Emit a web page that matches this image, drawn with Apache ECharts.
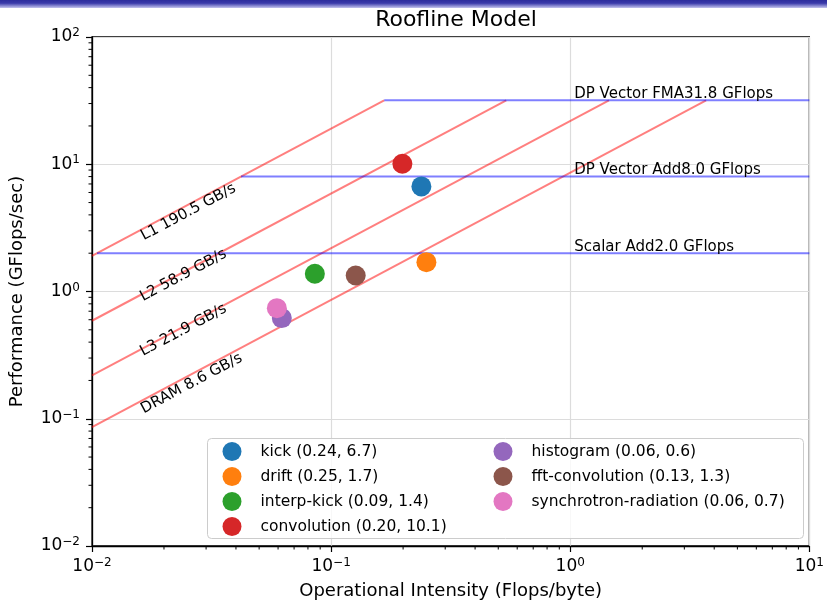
<!DOCTYPE html>
<html>
<head>
<meta charset="utf-8">
<script src="https://cdn.jsdelivr.net/npm/echarts@6/dist/echarts.min.js"></script>
<style>
html,body{margin:0;padding:0;background:#fff;}
#chart{width:827px;height:605px;}
</style>
</head>
<body>
<div id="chart"></div>
<script>
// ---------- data ----------
const appNames = ['kick', 'drift', 'interp-kick', 'convolution', 'histogram', 'fft-convolution', 'synchrotron-radiation'];
const appIntensity = [0.2385, 0.2503, 0.0855, 0.1986, 0.0622, 0.1267, 0.0593];
const appPerformance = [6.7, 1.70, 1.38, 10.1, 0.618, 1.335, 0.74];
const appColors = ['#1f77b4', '#ff7f0e', '#2ca02c', '#d62728', '#9467bd', '#8c564b', '#e377c2'];

const roofNames = ['L1 190.5 GB/s', 'L2 58.9 GB/s', 'L3 21.9 GB/s', 'DRAM 8.6 GB/s'];
const roofStartX = [0.01, 0.01, 0.01, 0.01];
const roofStartY = [1.905, 0.589, 0.219, 0.086];
const roofEndX = [0.1667, 0.540, 1.452, 3.70];
const roofEndY = [31.8, 31.8, 31.8, 31.8];
const roofLabelX = [0.0253, 0.0241, 0.0241, 0.0261];
const roofLabelY = [4.20, 1.34, 0.497, 0.189];

const ceilNames = ['DP Vector FMA', 'DP Vector Add', 'Scalar Add'];
const ceilValues = [31.8, 8.0, 2.0];
const ceilStartX = [0.1667, 0.042, 0.0105];
const ceilEndX = [10, 10, 10];
const ceilLabelX = [1.0, 1.0, 1.0];

const xTickValues = [0.01, 0.1, 1, 10];
const yTickValues = [0.01, 0.1, 1, 10, 100];
const minorMultipliers = [2, 3, 4, 5, 6, 7, 8, 9];

// ---------- helpers ----------
const FONT = 'DejaVu Sans';
function powLabel(v) {
  const e = Math.round(Math.log10(v));
  const es = e < 0 ? '\u2212' + Math.abs(e) : String(e);
  return '{b|10}{e|' + es + '}';
}
const tickRich = {
  b: {fontSize: 17, fontFamily: FONT, color: '#000', lineHeight: 20},
  e: {fontSize: 12, fontFamily: FONT, color: '#000', verticalAlign: 'top', lineHeight: 13}
};
function minorValues(ticks) {
  const out = [];
  for (let i = 0; i < ticks.length - 1; i++) {
    minorMultipliers.forEach(m => out.push(ticks[i] * m));
  }
  return out;
}

const series = [];
// roof lines
roofNames.forEach((n, i) => {
  series.push({
    type: 'line', name: n, silent: true, showSymbol: false, symbol: 'none', z: 2,
    data: [[roofStartX[i], roofStartY[i]], [roofEndX[i], roofEndY[i]]],
    lineStyle: {color: 'rgba(255,0,0,0.5)', width: 2}
  });
});
// ceilings
ceilNames.forEach((n, i) => {
  series.push({
    type: 'line', name: n, silent: true, showSymbol: false, symbol: 'none', z: 2,
    data: [[ceilStartX[i], ceilValues[i]], [ceilEndX[i], ceilValues[i]]],
    lineStyle: {color: 'rgba(0,0,255,0.5)', width: 2}
  });
});
// roof labels
series.push({
  type: 'scatter', silent: true, symbolSize: 0, z: 4,
  itemStyle: {opacity: 1},
  data: roofNames.map((n, i) => ({
    value: [roofLabelX[i], roofLabelY[i]],
    label: {
      show: true, formatter: n, position: 'inside', rotate: 28,
      align: 'center', verticalAlign: 'middle',
      fontSize: 15, fontFamily: FONT, color: '#000', opacity: 1
    }
  }))
});
// ceiling labels
series.push({
  type: 'scatter', silent: true, symbolSize: 0, z: 4,
  itemStyle: {opacity: 1},
  data: ceilNames.map((n, i) => ({
    value: [ceilLabelX[i], ceilValues[i]],
    label: {
      show: true, formatter: n + ceilValues[i].toFixed(1) + ' GFlops', position: 'inside',
      align: 'left', verticalAlign: 'middle', offset: [4, -6],
      fontSize: 15, fontFamily: FONT, color: '#000', opacity: 1
    }
  }))
});
// app points
const legendNames = appNames.map((n, i) => n + ' (' + appIntensity[i].toFixed(2) + ', ' + appPerformance[i].toFixed(1) + ')');
appNames.forEach((n, i) => {
  series.push({
    type: 'scatter', name: legendNames[i], z: 5, symbol: 'circle', symbolSize: 20,
    data: [[appIntensity[i], appPerformance[i]]],
    itemStyle: {color: appColors[i], opacity: 1}
  });
});
// minor ticks
series.push({
  type: 'custom', silent: true, clip: false, z: 6,
  data: minorValues(xTickValues).map(v => [v, 0.01]),
  renderItem: function (params, api) {
    const p = api.coord([api.value(0), api.value(1)]);
    return {type: 'line', shape: {x1: p[0], y1: p[1], x2: p[0], y2: p[1] + 3.5}, style: {stroke: '#000', lineWidth: 1}};
  }
});
series.push({
  type: 'custom', silent: true, clip: false, z: 6,
  data: minorValues(yTickValues).map(v => [0.01, v]),
  renderItem: function (params, api) {
    const p = api.coord([api.value(0), api.value(1)]);
    return {type: 'line', shape: {x1: p[0] - 3.5, y1: p[1], x2: p[0], y2: p[1]}, style: {stroke: '#000', lineWidth: 1}};
  }
});

const legendBase = {
  orient: 'vertical', padding: 0, itemGap: 6, itemWidth: 47, itemHeight: 19, icon: 'circle',
  top: 442, selectedMode: false, z: 10,
  textStyle: {fontSize: 15.5, fontFamily: FONT, color: '#000'}
};

const option = {
  animation: false,
  backgroundColor: '#fff',
  title: {
    text: 'Roofline Model', left: 451, top: 3, textAlign: 'center',
    textStyle: {fontSize: 22, fontWeight: 'normal', fontFamily: FONT, color: '#000', lineHeight: 24}
  },
  grid: {left: 92, right: 17, top: 37, bottom: 58, show: true, borderColor: '#000', borderWidth: 1.3, containLabel: false},
  legend: [
    Object.assign({}, legendBase, {left: 222.5, data: legendNames.slice(0, 4)}),
    Object.assign({}, legendBase, {left: 493.5, data: legendNames.slice(4)})
  ],
  xAxis: {
    type: 'log', logBase: 10, min: xTickValues[0], max: xTickValues[xTickValues.length - 1], interval: 1,
    name: 'Operational Intensity (Flops/byte)', nameLocation: 'middle', nameGap: 36,
    nameTextStyle: {fontSize: 18, fontFamily: FONT, color: '#000'},
    axisLine: {lineStyle: {color: '#000', width: 1.3}},
    axisTick: {show: true, inside: false, length: 6, lineStyle: {color: '#000', width: 1.2}},
    axisLabel: {formatter: powLabel, rich: tickRich, margin: 11, color: '#000'},
    splitLine: {show: true, lineStyle: {color: '#dcdcdc', width: 1.2}},
    minorTick: {show: false}
  },
  yAxis: {
    type: 'log', logBase: 10, min: yTickValues[0], max: yTickValues[yTickValues.length - 1], interval: 1,
    name: 'Performance (GFlops/sec)', nameLocation: 'middle', nameGap: 66, nameRotate: 90,
    nameTextStyle: {fontSize: 18, fontFamily: FONT, color: '#000'},
    axisLine: {lineStyle: {color: '#000', width: 1.3}},
    axisTick: {show: true, inside: false, length: 6, lineStyle: {color: '#000', width: 1.2}},
    axisLabel: {formatter: powLabel, rich: tickRich, margin: 12, color: '#000'},
    splitLine: {show: true, lineStyle: {color: '#dcdcdc', width: 1.2}},
    minorTick: {show: false}
  },
  graphic: [
    {
      type: 'rect', left: 0, top: 0, z: 100, silent: true,
      shape: {width: 827, height: 8},
      style: {fill: {type: 'linear', x: 0, y: 0, x2: 0, y2: 1, colorStops: [
        {offset: 0, color: '#2c2c9c'}, {offset: 0.4, color: '#3a3aaa'}, {offset: 1, color: '#c4c4ee'}
      ]}}
    },
    {
      type: 'rect', left: 207, top: 438, z: 8, silent: true,
      shape: {width: 596, height: 100, r: 4},
      style: {fill: 'rgba(255,255,255,0.8)', stroke: '#cccccc', lineWidth: 1}
    }
  ],
  series: series
};

const chart = echarts.init(document.getElementById('chart'), null, {renderer: 'canvas'});
chart.setOption(option);
</script>
</body>
</html>
